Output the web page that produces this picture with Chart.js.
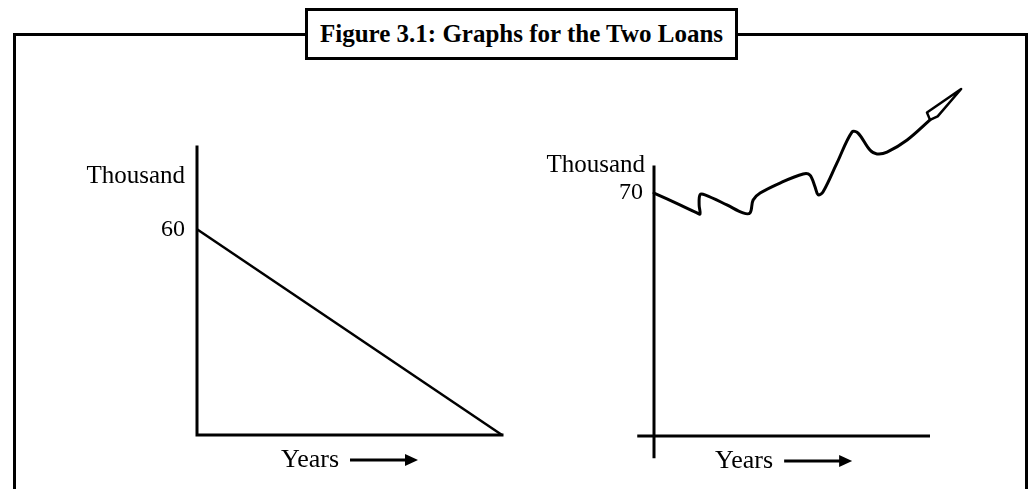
<!DOCTYPE html>
<html>
<head>
<meta charset="utf-8">
<title>Figure 3.1: Graphs for the Two Loans</title>
<script src="https://cdn.jsdelivr.net/npm/chart.js@4/dist/chart.umd.min.js"></script>
<style>
  html, body { margin: 0; padding: 0; background: #fff; }
  body { width: 1029px; height: 489px; position: relative; overflow: hidden; }
  #frame {
    position: absolute; left: 13px; top: 33px; width: 1015px; height: 520px;
    border: 3px solid #000; box-sizing: border-box;
  }
  #title {
    position: absolute; left: 305px; top: 8px; width: 433px; height: 52px;
    border: 3px solid #000; box-sizing: border-box; background: #fff;
    display: flex; align-items: center; justify-content: center;
    font: bold 25px 'Liberation Serif', serif; color: #000; z-index: 3;
  }
  canvas { position: absolute; left: 0; top: 0; z-index: 2; }
</style>
</head>
<body>
<div id="frame"></div>
<div id="title">Figure 3.1: Graphs for the Two Loans</div>
<canvas id="loanA" width="1029" height="489"></canvas>
<canvas id="loanB" width="1029" height="489"></canvas>
<script>
// loan 1: straight-line decline from 60 thousand to zero
const loanAYears = [0, 10]
const loanAValues = [60, 0]
const loanATicks = [60]

// loan 2: wavy rise from 70 thousand
const loanBYears = [0, 0.85, 1.41, 1.51, 1.48, 1.51, 1.67, 2.39, 2.92, 3.15, 3.25, 3.48, 4.13, 4.89, 5.11, 5.28, 5.38, 5.54, 6.0, 6.49, 6.69, 7.08, 7.31, 7.64, 8.3, 9.05]
const loanBValues = [70, 66.6, 64.3, 64.0, 66.6, 69.5, 69.5, 66.6, 64.3, 64.3, 68.0, 70.0, 72.9, 75.5, 75.2, 71.8, 69.5, 70.3, 78.7, 87.6, 87.3, 82.4, 81.3, 81.8, 85.3, 91.1]
const loanBTicks = [70]

// hand-drawn arrow head at the end of loan 2
const arrowYears = [9.05, 8.95, 10.07, 9.3, 9.05]
const arrowValues = [91.1, 93.2, 100, 92.1, 91.1]

const unitLabel = 'Thousand'
const timeLabel = 'Years'

const FONT = "'Liberation Serif', serif"

function toPoints(xs, ys) {
  return xs.map((x, i) => ({ x: x, y: ys[i] }))
}

// draws the axis lines, the unit label and the "Years ->" caption
function sketchAxes(cfg) {
  return {
    id: 'sketchAxes',
    afterDraw(chart) {
      const ctx = chart.ctx
      const xs = chart.scales.x
      const ys = chart.scales.y
      const x0 = xs.getPixelForValue(0)
      const y0 = ys.getPixelForValue(0)
      ctx.save()
      ctx.strokeStyle = '#000'
      ctx.lineWidth = 3
      ctx.lineCap = 'square'
      ctx.beginPath()
      ctx.moveTo(x0, ys.getPixelForValue(cfg.yLine[0]))
      ctx.lineTo(x0, ys.getPixelForValue(cfg.yLine[1]))
      ctx.moveTo(xs.getPixelForValue(cfg.xLine[0]), y0)
      ctx.lineTo(xs.getPixelForValue(cfg.xLine[1]), y0)
      ctx.stroke()

      ctx.fillStyle = '#000'
      ctx.font = '25px ' + FONT
      ctx.textAlign = 'right'
      ctx.textBaseline = 'alphabetic'
      ctx.fillText(unitLabel, x0 - cfg.unitGap, ys.getPixelForValue(cfg.unitAt))

      // caption centred under the drawn x axis
      ctx.font = '26px ' + FONT
      const textW = ctx.measureText(timeLabel).width
      const gap = 11
      const arrowLen = 68
      const mid = (xs.getPixelForValue(cfg.xLine[0]) + xs.getPixelForValue(cfg.xLine[1])) / 2
      const start = mid - (textW + gap + arrowLen) / 2
      const cy = y0 + 25
      ctx.textAlign = 'left'
      ctx.textBaseline = 'middle'
      ctx.fillText(timeLabel, start, cy)
      const ax = start + textW + gap
      ctx.lineWidth = 3
      ctx.lineCap = 'butt'
      ctx.beginPath()
      ctx.moveTo(ax, cy)
      ctx.lineTo(ax + arrowLen - 10, cy)
      ctx.stroke()
      ctx.beginPath()
      ctx.moveTo(ax + arrowLen, cy)
      ctx.lineTo(ax + arrowLen - 13, cy - 6)
      ctx.lineTo(ax + arrowLen - 13, cy + 6)
      ctx.closePath()
      ctx.fill()
      ctx.restore()
    }
  }
}

function yAxis(max, tickValues, pad) {
  return {
    type: 'linear',
    min: 0,
    max: max,
    afterBuildTicks: s => { s.ticks = tickValues.map(v => ({ value: v })) },
    afterFit: s => { s.width = 60 },
    grid: { display: false, drawTicks: false },
    border: { display: false },
    ticks: { color: '#000', font: { family: FONT, size: 24 }, padding: pad }
  }
}

function baseOptions(padding, yMax, tickValues, tickPad) {
  return {
    responsive: false,
    animation: false,
    events: [],
    layout: { padding: padding },
    plugins: { legend: { display: false }, tooltip: { enabled: false }, title: { display: false } },
    scales: {
      x: { type: 'linear', min: 0, max: 10, display: false },
      y: yAxis(yMax, tickValues, tickPad)
    }
  }
}

new Chart(document.getElementById('loanA'), {
  type: 'scatter',
  data: {
    datasets: [{
      data: toPoints(loanAYears, loanAValues),
      showLine: true,
      borderColor: '#000',
      borderWidth: 2.5,
      pointRadius: 0,
      clip: false
    }]
  },
  options: baseOptions({ left: 137, top: 147, right: 527, bottom: 54 }, 84, loanATicks, 12),
  plugins: [sketchAxes({ xLine: [0, 10], yLine: [0, 84], unitGap: 12, unitAt: 73.5 })]
})

new Chart(document.getElementById('loanB'), {
  type: 'scatter',
  data: {
    datasets: [{
      data: toPoints(loanBYears, loanBValues),
      showLine: true,
      borderColor: '#000',
      borderWidth: 3,
      borderCapStyle: 'round',
      borderJoinStyle: 'round',
      tension: 0.35,
      pointRadius: 0,
      clip: false
    }, {
      data: toPoints(arrowYears, arrowValues),
      showLine: true,
      borderColor: '#000',
      borderWidth: 2.5,
      borderJoinStyle: 'round',
      tension: 0,
      pointRadius: 0,
      clip: false
    }]
  },
  options: baseOptions({ left: 594, top: 89, right: 70, bottom: 53 }, 100, loanBTicks, 11),
  plugins: [sketchAxes({ xLine: [-0.5, 9], yLine: [-6, 77.5], unitGap: 9, unitAt: 76.1 })]
})
</script>
</body>
</html>
